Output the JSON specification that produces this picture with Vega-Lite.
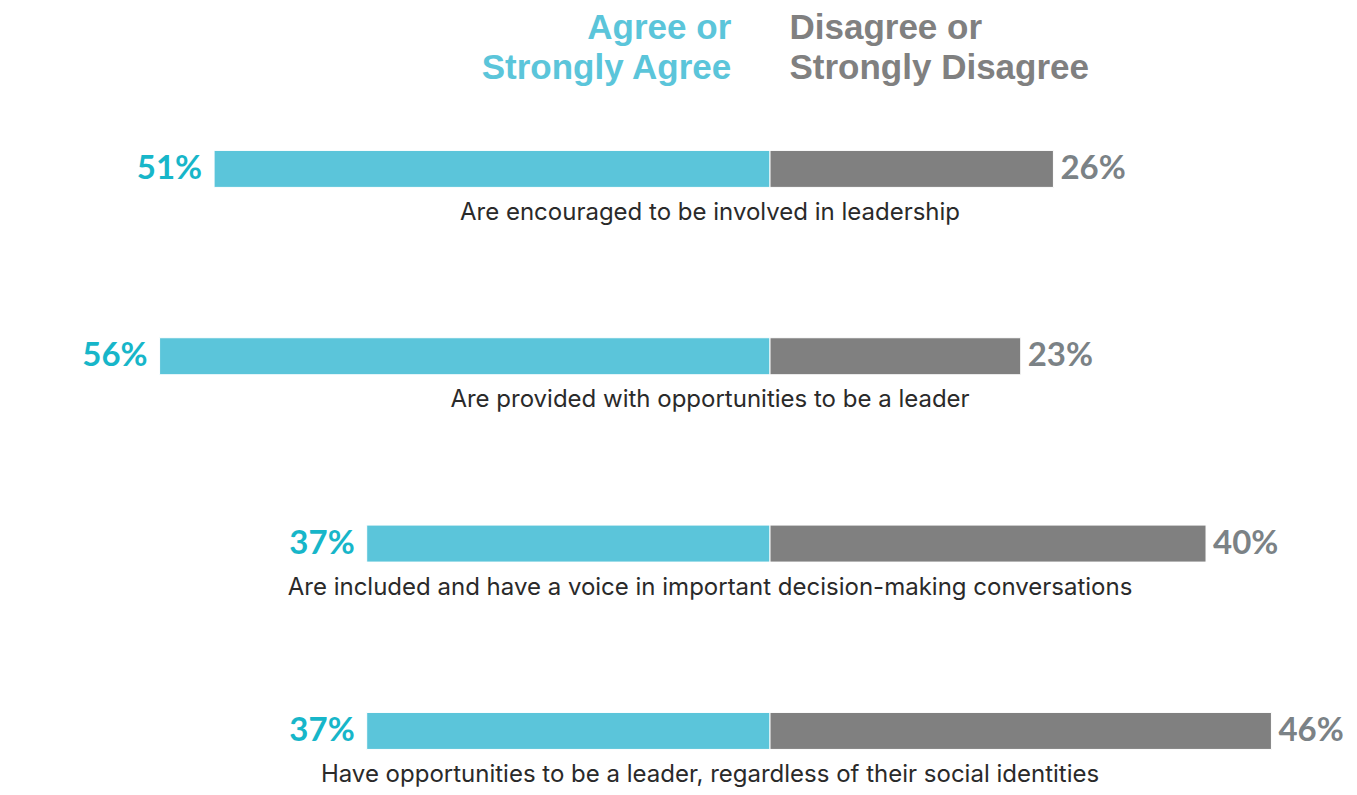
{
  "$schema": "https://vega.github.io/schema/vega-lite/v6.json",
  "autosize": {"type": "fit", "contains": "padding"},
  "width": 1357,
  "height": 795,
  "padding": {"top": 10, "left": 0, "right": 0, "bottom": 0},
  "background": "white",
  "config": {"view": {"stroke": null}},
  "data": {
    "values": [
      {"statement": "Are encouraged to be involved in leadership", "agree": 0.51, "disagree": 0.26},
      {"statement": "Are provided with opportunities to be a leader", "agree": 0.56, "disagree": 0.23},
      {"statement": "Are included and have a voice in important decision-making conversations", "agree": 0.37, "disagree": 0.40},
      {"statement": "Have opportunities to be a leader, regardless of their social identities", "agree": 0.37, "disagree": 0.46}
    ]
  },
  "encoding": {
    "y": {
      "field": "statement",
      "type": "nominal",
      "sort": null,
      "scale": {"type": "point", "padding": 0.475, "align": 0.64},
      "axis": null
    }
  },
  "layer": [
    {
      "mark": {"type": "bar", "size": 37, "color": "#5BC5DA", "stroke": "white", "strokeWidth": 1},
      "encoding": {
        "x": {"field": "agree", "type": "quantitative", "scale": {"domain": [-0.5385, 0.7064], "reverse": true, "zero": false, "nice": false}, "axis": null},
        "x2": {"datum": 0}
      }
    },
    {
      "mark": {"type": "bar", "size": 37, "color": "#808080", "stroke": "white", "strokeWidth": 1},
      "encoding": {
        "x": {
          "field": "disagree",
          "type": "quantitative",
          "scale": {"domain": [-0.7064, 0.5385], "zero": false, "nice": false},
          "axis": {
            "orient": "top",
            "values": [-0.036, 0.0174],
            "grid": false,
            "domain": false,
            "ticks": false,
            "title": null,
            "labelExpr": "datum.value < 0 ? ['Agree or', 'Strongly Agree'] : ['Disagree or', 'Strongly Disagree']",
            "labelAlign": {"condition": {"test": "datum.value < 0", "value": "right"}, "value": "left"},
            "labelColor": {"condition": {"test": "datum.value < 0", "value": "#5BC5DA"}, "value": "#808080"},
            "labelFont": "Liberation Sans",
            "labelFontSize": 35,
            "labelFontWeight": "bold",
            "labelLineHeight": 40,
            "labelPadding": 10,
            "labelLimit": 0,
            "labelOverlap": false,
            "labelFlush": false,
            "labelBound": false
          }
        },
        "x2": {"datum": 0}
      }
    },
    {
      "mark": {"type": "text", "align": "right", "baseline": "middle", "dx": -12, "font": "Lato", "fontSize": 33, "fontWeight": "bold", "color": "#17B6C9"},
      "encoding": {
        "x": {"field": "agree", "type": "quantitative", "scale": {"domain": [-0.5385, 0.7064], "reverse": true, "zero": false, "nice": false}, "axis": null},
        "text": {"field": "agree", "type": "quantitative", "format": ".0%"}
      }
    },
    {
      "mark": {"type": "text", "align": "left", "baseline": "middle", "dx": 7, "font": "Lato", "fontSize": 33, "fontWeight": "bold", "color": "#7B8286"},
      "encoding": {
        "x": {"field": "disagree", "type": "quantitative", "scale": {"domain": [-0.7064, 0.5385], "zero": false, "nice": false}, "axis": null},
        "text": {"field": "disagree", "type": "quantitative", "format": ".0%"}
      }
    },
    {
      "mark": {"type": "text", "align": "center", "baseline": "middle", "dx": -60, "dy": 44, "font": "Inter", "fontSize": 24, "color": "#2a2a2a"},
      "encoding": {
        "x": {"datum": 0, "type": "quantitative", "scale": {"domain": [-0.7064, 0.5385], "zero": false, "nice": false}, "axis": null},
        "text": {"field": "statement", "type": "nominal"}
      }
    }
  ],
  "resolve": {"scale": {"x": "independent"}}
}
